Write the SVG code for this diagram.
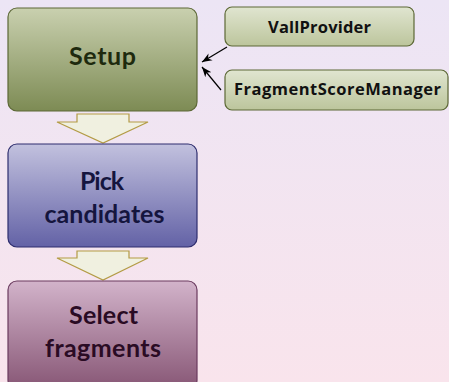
<svg xmlns="http://www.w3.org/2000/svg" width="449" height="382" viewBox="0 0 449 382">
<defs>
<linearGradient id="bg" x1="0" y1="0" x2="0" y2="1"><stop offset="0" stop-color="#ece5f5"/><stop offset="1" stop-color="#f9e4ec"/></linearGradient>
<linearGradient id="gSetup" x1="0" y1="0" x2="0" y2="1"><stop offset="0" stop-color="#c9d0af"/><stop offset="1" stop-color="#7d8b54"/></linearGradient>
<linearGradient id="gPick" x1="0" y1="0" x2="0" y2="1"><stop offset="0" stop-color="#c2c1de"/><stop offset="1" stop-color="#6362a6"/></linearGradient>
<linearGradient id="gSel" x1="0" y1="0" x2="0" y2="1"><stop offset="0" stop-color="#d2b3ca"/><stop offset="1" stop-color="#875675"/></linearGradient>
<linearGradient id="gSmall" x1="0" y1="0" x2="0" y2="1"><stop offset="0" stop-color="#e0e5d0"/><stop offset="1" stop-color="#bcc59c"/></linearGradient>
<marker id="ah" viewBox="0 0 10 10" refX="10" refY="5" markerWidth="10" markerHeight="10" markerUnits="userSpaceOnUse" orient="auto">
<path d="M0,1 L10,5 L0,9 L3,5 Z" fill="#000"/>
</marker>
</defs>
<style>
.big{font-family:Lato,"Open Sans",sans-serif;font-weight:bold;font-size:25px;text-anchor:middle}
.small{font-family:"Open Sans",Lato,sans-serif;font-weight:bold;font-size:16.5px;text-anchor:middle;fill:#111}
.blk{fill:#f0f0e0;stroke:#b39b45;stroke-width:1.2}
.conn{stroke:#000;stroke-width:1.2;fill:none;marker-end:url(#ah)}
</style>
<rect width="449" height="382" fill="url(#bg)"/>
<g id="arrows-block">
<path class="blk" d="M77,114 H129 V122 H148 L103,143 L57,122 H77 Z"/>
<path class="blk" d="M77,251 H129 V258 H148 L103,280 L57,258 H77 Z"/>
</g>
<g id="setup">
<rect x="8" y="8" width="189" height="103" rx="9" fill="url(#gSetup)" stroke="#5c6836" stroke-width="1.2"/>
<text class="big" x="102.5" y="65" fill="#1e2a0e" textLength="67">Setup</text>
</g>
<g id="pick">
<rect x="8" y="144" width="189" height="103" rx="9" fill="url(#gPick)" stroke="#2e2d6e" stroke-width="1.2"/>
<text class="big" x="102" y="190" fill="#15153e" textLength="44">Pick</text>
<text class="big" x="104.5" y="223" fill="#15153e" textLength="120">candidates</text>
</g>
<g id="select">
<rect x="8" y="281" width="189" height="108" rx="9" fill="url(#gSel)" stroke="#6a3a5e" stroke-width="1.2"/>
<text class="big" x="103.5" y="324" fill="#2a0b24" textLength="69">Select</text>
<text class="big" x="103" y="357" fill="#2a0b24" textLength="116">fragments</text>
</g>
<g id="vallprovider">
<rect x="225" y="7" width="189" height="39" rx="7" fill="url(#gSmall)" stroke="#5c6836" stroke-width="1.2"/>
<text class="small" x="319.5" y="33" textLength="103">VallProvider</text>
</g>
<g id="fragmentscoremanager">
<rect x="225" y="70" width="223" height="40" rx="7" fill="url(#gSmall)" stroke="#5c6836" stroke-width="1.2"/>
<text class="small" x="337.5" y="95" textLength="207">FragmentScoreManager</text>
</g>
<g id="connectors">
<line class="conn" x1="227" y1="47" x2="202" y2="62"/>
<line class="conn" x1="221" y1="90" x2="202" y2="67"/>
</g>
</svg>
